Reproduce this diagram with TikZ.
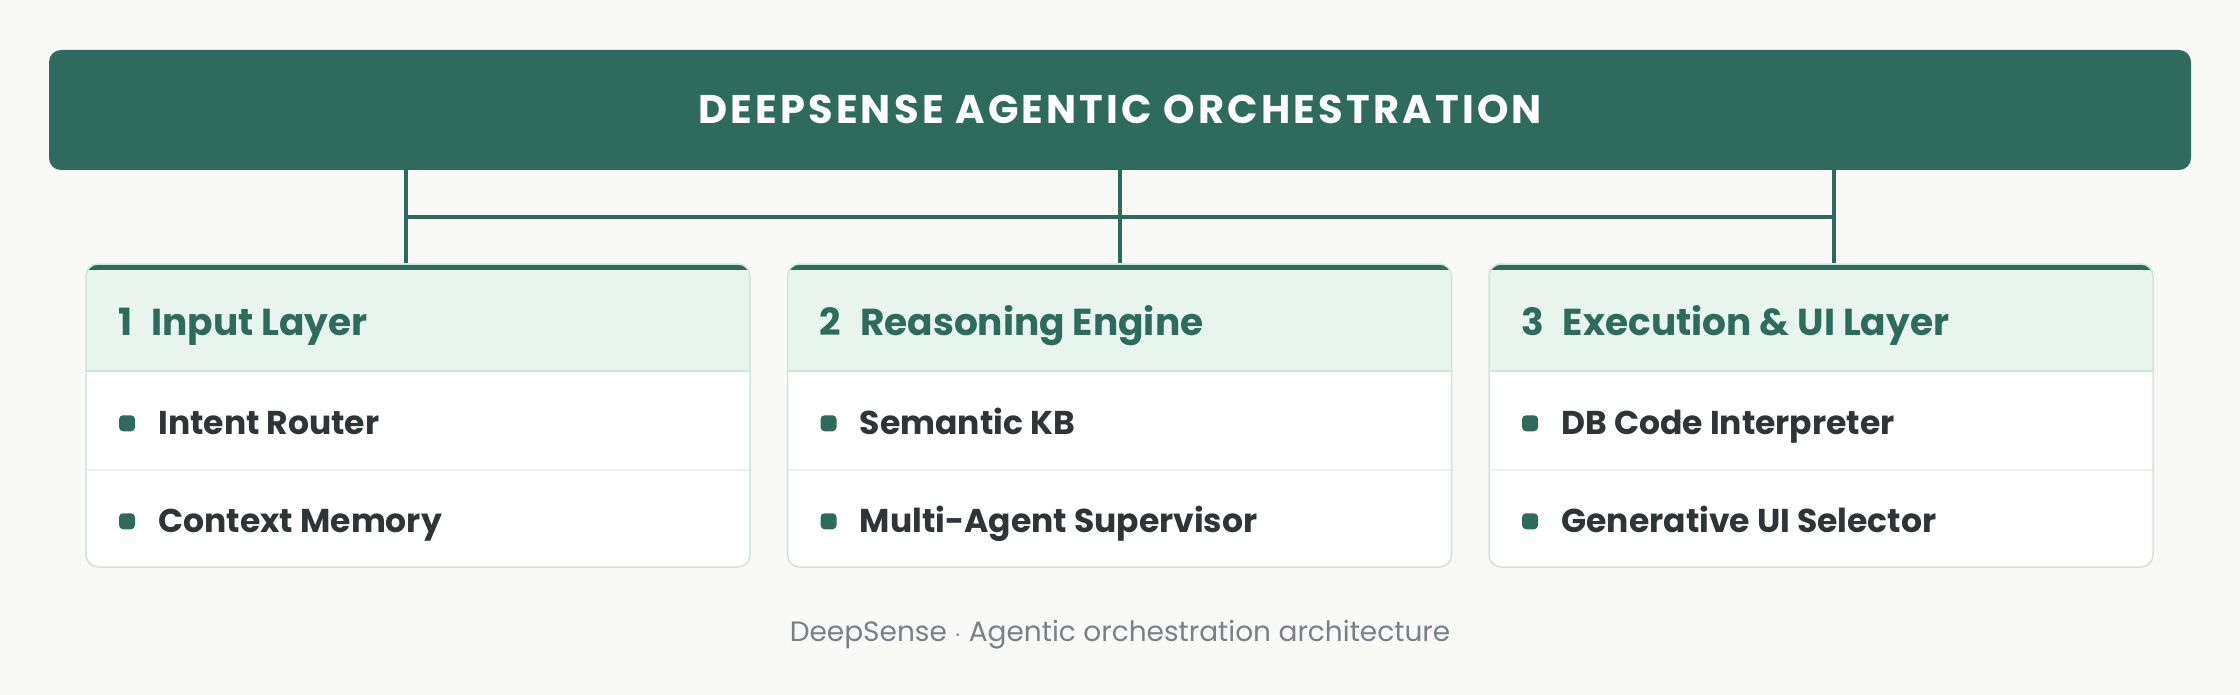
\documentclass[tikz,border=0pt]{standalone}
\usepackage{fontspec}
\setmainfont{Poppins}
\newfontfamily\titlefont[LetterSpace=8]{Poppins}
\usepackage{xcolor}
\usetikzlibrary{positioning}

\definecolor{deepgreen}{HTML}{2E6B5C}
\definecolor{headfill}{HTML}{E8F5EE}
\definecolor{cardline}{HTML}{CDE5DA}
\definecolor{rowline}{HTML}{EDF1EF}
\definecolor{itemtext}{HTML}{2F3437}
\definecolor{notegray}{HTML}{7A7F88}
\definecolor{pagebg}{HTML}{F9F9F7}

\begin{document}
\begin{tikzpicture}[x=1pt, y=1pt,
            banner/.style={fill=deepgreen, rounded corners=12pt, minimum width=2142pt, minimum height=120pt, inner sep=0pt, text=white, text height=28pt, text depth=0pt, font=\titlefont\bfseries\fontsize{40}{44}\selectfont},
            card/.style={draw=cardline, line width=1.5pt, fill=white, rounded corners=12pt, minimum width=664pt, minimum height=303pt, inner sep=0pt,
                path picture={
                    \fill[headfill, sharp corners] (path picture bounding box.north west) rectangle ([yshift=-107pt]path picture bounding box.north east);
                    \fill[deepgreen, sharp corners] (path picture bounding box.north west) rectangle ([yshift=-6pt]path picture bounding box.north east);
                    \draw[cardline, line width=1.5pt] ([yshift=-107pt]path picture bounding box.north west) -- ([yshift=-107pt]path picture bounding box.north east);
                    \draw[rowline, line width=1.5pt] ([yshift=-206pt]path picture bounding box.north west) -- ([yshift=-206pt]path picture bounding box.north east);
                }},
            head/.style={anchor=west, inner sep=0pt, text=deepgreen, text height=27pt, text depth=0pt, font=\bfseries\fontsize{37.5}{42}\selectfont},
            item/.style={anchor=west, inner sep=0pt, text=itemtext, text height=22pt, text depth=0pt, font=\bfseries\fontsize{33}{38}\selectfont},
            dot/.style={fill=deepgreen, rounded corners=4pt, minimum size=16pt, inner sep=0pt},
            link/.style={draw=deepgreen, line width=4pt}]

            % Page
            \fill[pagebg] (0,0) rectangle (2240,-695);
            \useasboundingbox (0,0) rectangle (2240,-695);

            % Nodes
            \node (top) [banner] at (1120,-110) {DEEPSENSE AGENTIC ORCHESTRATION};
            \node (input) [card] at (418,-415.5) {};
            \node (reason) [card, right=36pt of input] {};
            \node (exec) [card, right=36pt of reason] {};

            % Input layer
            \node (inputhead) [head] at ([xshift=33pt, yshift=-59pt]input.north west) {1\hspace{0.5em}Input Layer};
            \node (router) [item] at ([xshift=73pt, yshift=-160pt]input.north west) {Intent Router};
            \node (memory) [item] at ([xshift=73pt, yshift=-258pt]input.north west) {Context Memory};
            \node (routerdot) [dot, left=23pt of router] {};
            \node (memorydot) [dot, left=23pt of memory] {};

            % Reasoning engine
            \node (reasonhead) [head] at ([xshift=33pt, yshift=-59pt]reason.north west) {2\hspace{0.5em}Reasoning Engine};
            \node (kb) [item] at ([xshift=73pt, yshift=-160pt]reason.north west) {Semantic KB};
            \node (super) [item] at ([xshift=73pt, yshift=-258pt]reason.north west) {Multi-Agent Supervisor};
            \node (kbdot) [dot, left=23pt of kb] {};
            \node (superdot) [dot, left=23pt of super] {};

            % Execution & UI layer
            \node (exechead) [head] at ([xshift=33pt, yshift=-59pt]exec.north west) {3\hspace{0.5em}Execution \& UI Layer};
            \node (interp) [item] at ([xshift=73pt, yshift=-160pt]exec.north west) {DB Code Interpreter};
            \node (selector) [item] at ([xshift=73pt, yshift=-258pt]exec.north west) {Generative UI Selector};
            \node (interpdot) [dot, left=23pt of interp] {};
            \node (selectordot) [dot, left=23pt of selector] {};

            % Footer
            \node (note) [text=notegray, text height=20pt, text depth=0pt, inner sep=0pt, font=\fontsize{28}{32}\selectfont] at (1120,-631) {DeepSense $\cdot$ Agentic orchestration architecture};

            % Connectors
            \coordinate (tapa) at ([xshift=-714pt]top.south);
            \coordinate (tapb) at (top.south);
            \coordinate (tapc) at ([xshift=714pt]top.south);
            \coordinate (busa) at ([yshift=-47pt]tapa);
            \coordinate (busc) at ([yshift=-47pt]tapc);
            \draw [link] (tapa) -- (tapa |- input.north);
            \draw [link] (tapb) -- (tapb |- reason.north);
            \draw [link] (tapc) -- (tapc |- exec.north);
            \draw [link] (busa) -- (busc);
        \end{tikzpicture}
\end{document}
